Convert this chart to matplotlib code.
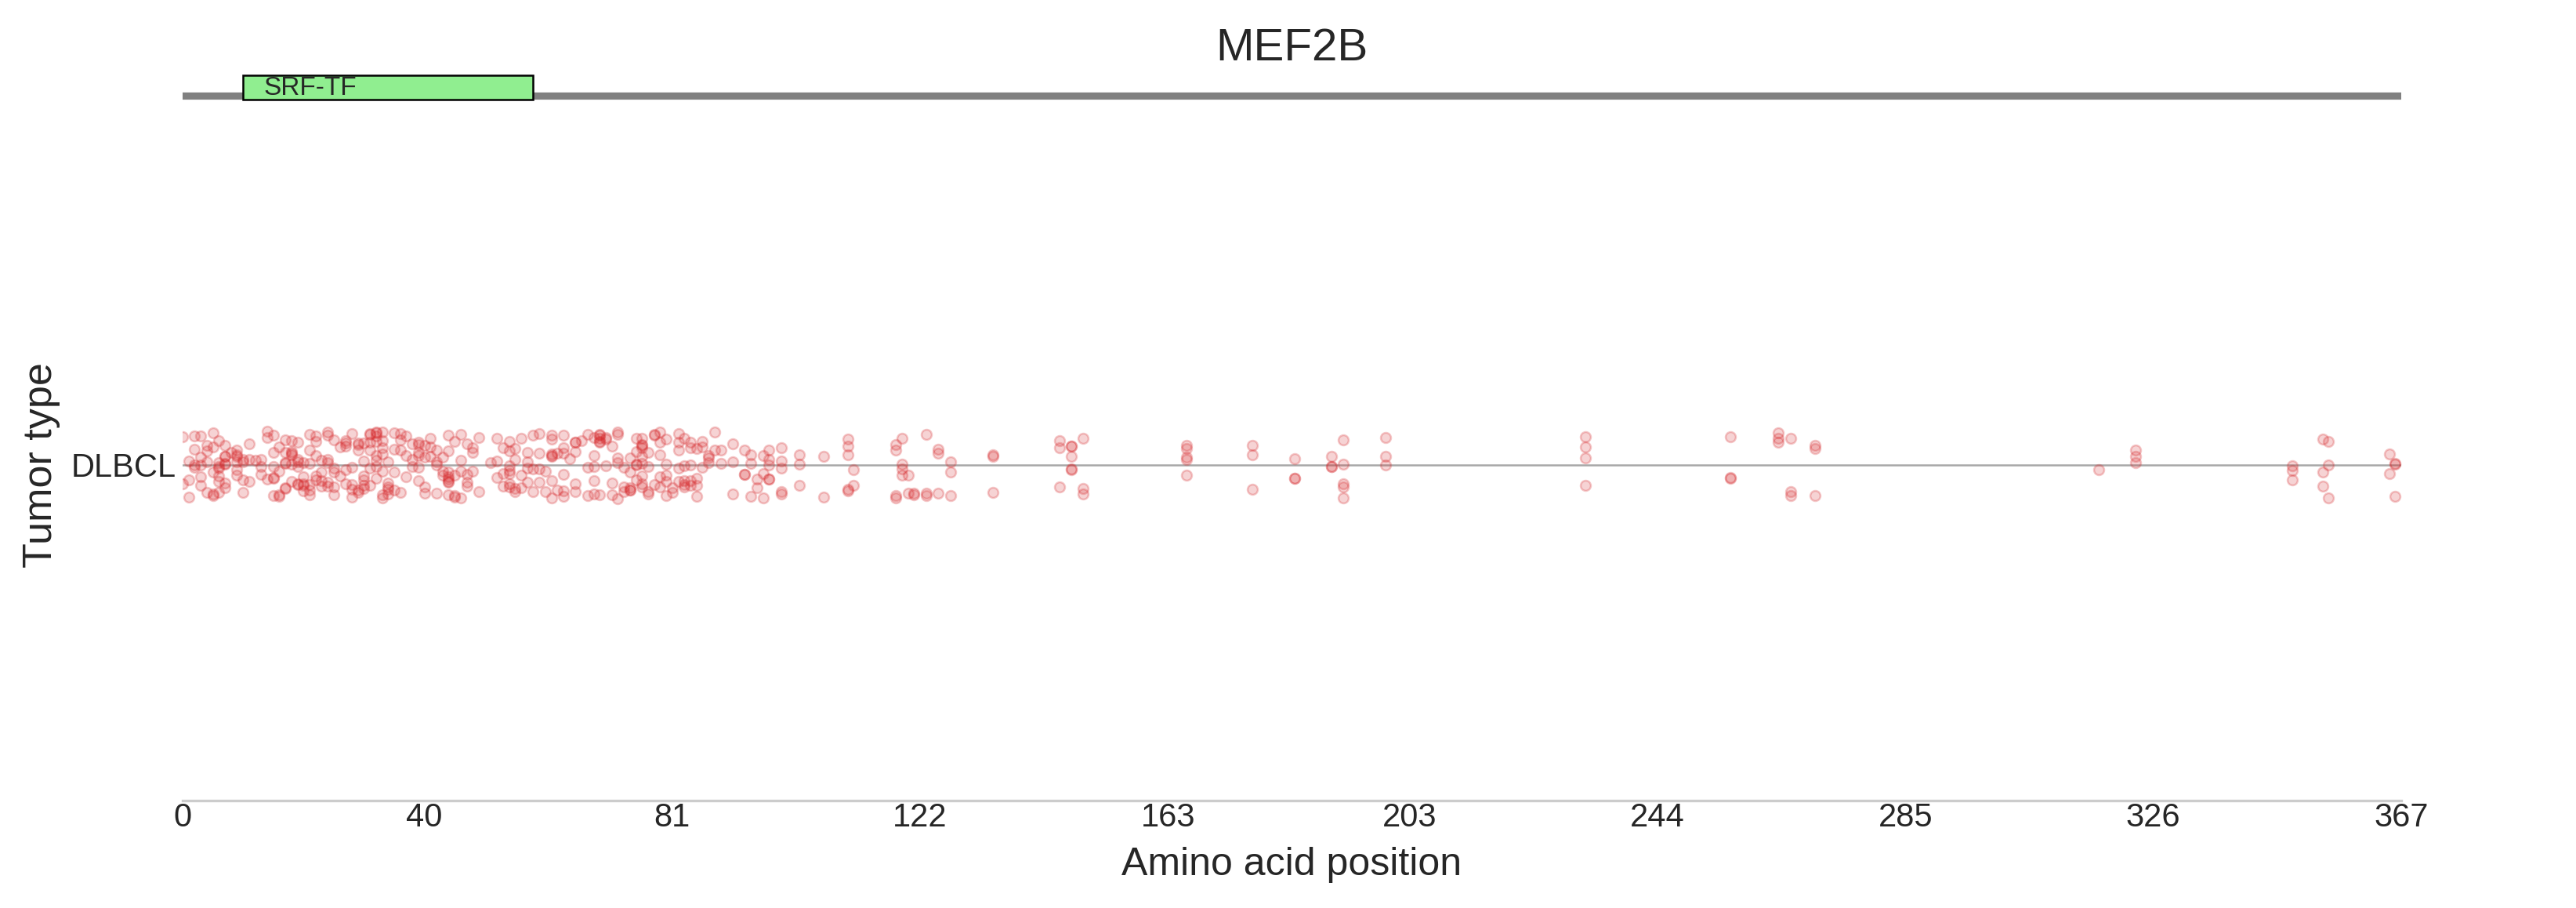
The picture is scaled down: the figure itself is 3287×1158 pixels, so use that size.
import numpy as np
import matplotlib
matplotlib.use("Agg")
import matplotlib.pyplot as plt
import seaborn as sns
from matplotlib.patches import Rectangle

plt.rcParams['font.family'] = ['Liberation Sans', 'DejaVu Sans']
np.random.seed(7)  # jitter reproductible

# Données
gene = "MEF2B"
protein_length = 367
tumor_type = "DLBCL"
domain_name = "SRF-TF"
domain_start = 10
domain_end = 58

# positions d'acides aminés mutées et nombre de mutations à chaque position
positions = [0, 1, 2, 3, 4, 5, 6, 7, 8, 9, 10, 11, 12, 13, 14, 15, 16, 17, 18, 19,
             20, 21, 22, 23, 24, 25, 26, 27, 28, 29, 30, 31, 32, 33, 34, 35, 36, 37, 38, 39,
             40, 41, 42, 43, 44, 45, 46, 47, 48, 49, 51, 52, 53, 54, 55, 56, 57, 58, 59, 60,
             61, 62, 63, 64, 65, 66, 67, 68, 69, 70, 71, 72, 73, 74, 75, 76, 77, 78, 79, 80,
             81, 82, 83, 84, 85, 86, 87, 88, 89, 91, 93, 94, 95, 96, 97, 99, 102, 106, 110, 111,
             118, 119, 120, 121, 123, 125, 127, 134, 145, 147, 149, 166, 177, 184, 190, 192, 199, 232, 256, 264,
             266, 270, 317, 323, 349, 354, 355, 365, 366]
counts = [2, 3, 4, 5, 4, 5, 7, 7, 1, 6, 4, 3, 1, 3, 3, 6, 4, 6, 6, 6,
          5, 6, 5, 4, 6, 5, 2, 5, 5, 5, 6, 6, 8, 7, 5, 4, 4, 3, 3, 6,
          4, 3, 4, 3, 8, 4, 4, 4, 3, 2, 1, 3, 3, 7, 4, 3, 4, 3, 4, 2,
          7, 2, 6, 1, 5, 1, 3, 5, 6, 3, 3, 5, 3, 5, 5, 9, 4, 3, 5, 5,
          2, 5, 5, 5, 4, 3, 3, 2, 2, 3, 3, 3, 2, 3, 5, 5, 3, 2, 5, 2,
          4, 4, 2, 2, 3, 3, 3, 3, 3, 5, 3, 5, 3, 3, 3, 5, 3, 4, 3, 3,
          3, 3, 1, 3, 3, 3, 3, 2, 3]

x_ticks = [0, 40, 81, 122, 163, 203, 244, 285, 326, 367]

mut_positions = np.repeat(positions, counts)
mut_tumors = [tumor_type] * len(mut_positions)

W, H, DPI = 3287, 1158, 300
fig = plt.figure(figsize=(W / DPI, H / DPI), dpi=DPI)

# axe principal : strip plot
ax = fig.add_axes([233 / W, 137 / H, 2831 / W, 856 / H])
sns.stripplot(x=mut_positions, y=mut_tumors, ax=ax, jitter=0.05, size=3.1,
              color="#d62728", zorder=3)
pts = ax.collections[0]
pts.set_alpha(None)
pts.set_facecolor((0.84, 0.15, 0.16, 0.20))
pts.set_edgecolor((0.84, 0.15, 0.16, 0.26))
pts.set_linewidth(0.6)

ax.axhline(0, color="#a8a8a8", lw=0.6, zorder=1)
ax.set_xlim(0, protein_length)
ax.set_ylim(0.5, -0.5)
ax.set_xticks(x_ticks)
ax.set_xticklabels([str(t) for t in x_ticks])
ax.set_yticks([0])
ax.set_yticklabels([tumor_type])
ax.tick_params(axis="both", which="both", length=0, labelsize=10, colors="#262626")
ax.xaxis.set_tick_params(pad=0.5)
ax.yaxis.set_tick_params(pad=2)
for side in ["top", "right", "left"]:
    ax.spines[side].set_visible(False)
ax.spines["bottom"].set_color("#cccccc")
ax.spines["bottom"].set_linewidth(0.8)
ax.grid(False)
ax.set_xlabel("Amino acid position", fontsize=12, color="#262626", labelpad=4)
ax.set_ylabel("Tumor type", fontsize=12.5, color="#262626")
ax.yaxis.set_label_coords(-0.055, 0.5)

# axe du haut : schéma de la protéine
dax = fig.add_axes([233 / W, (H - 135) / H, 2831 / W, 45 / H], sharex=ax)
dax.axhline(0.289, color="gray", lw=2.2, zorder=1)
dax.add_patch(Rectangle((domain_start, 0.178), domain_end - domain_start, 0.689,
                        facecolor="#90ee90", edgecolor="black", lw=0.6, zorder=2))
dax.text(domain_start + 3.4, 0.51, domain_name, fontsize=8, color="#262626",
         ha="left", va="center", zorder=3)
dax.set_ylim(0, 1)
dax.axis("off")

fig.text((233 + 3064) / 2 / W, (H - 62) / H, gene, fontsize=14, color="#262626",
         ha="center", va="center")

fig.savefig("out.png", dpi=DPI)
